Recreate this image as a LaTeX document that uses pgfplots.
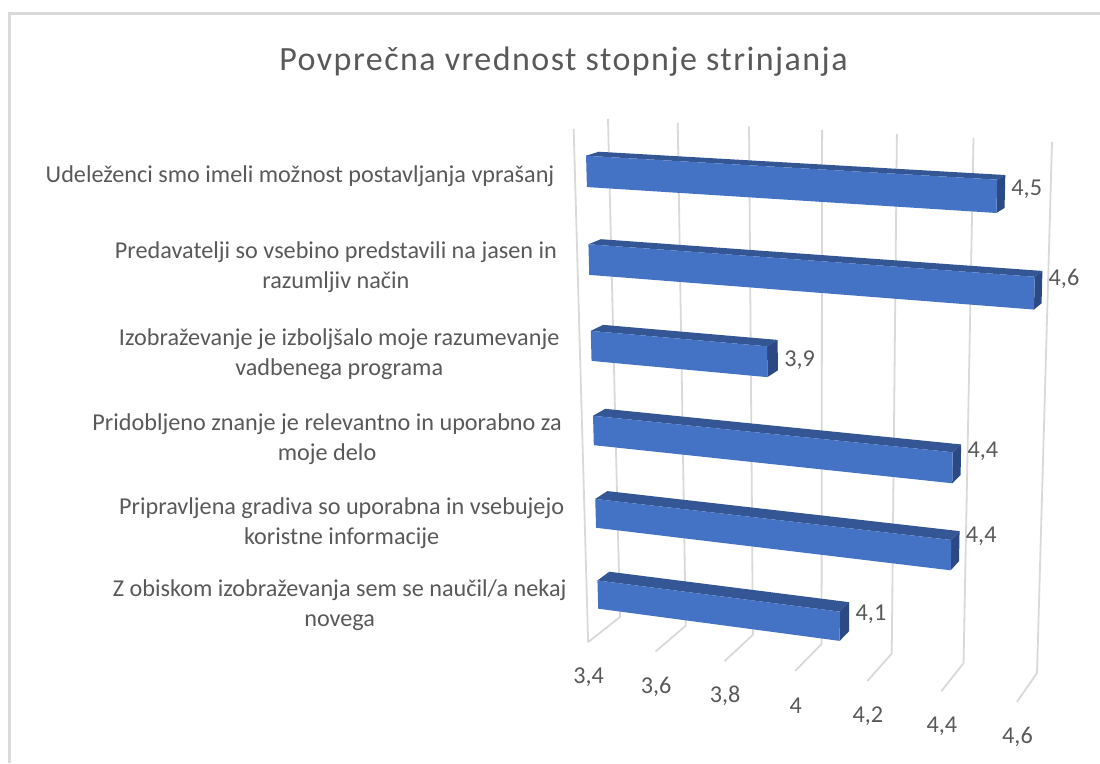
\documentclass[border=0pt]{standalone}
\usepackage{fontspec}
\setmainfont{Carlito}
\usepackage{pgfplots}
\usepackage{pgfplotstable}
\pgfplotsset{compat=1.18}

\definecolor{barfront}{HTML}{4472C4}
\definecolor{bartop}{HTML}{345694}
\definecolor{barside}{HTML}{2B4A85}
\definecolor{gridc}{HTML}{D9D9D9}
\definecolor{textc}{HTML}{595959}

% columns: v value, r row from the top (0..6), e depth (0 back wall, 1 front)
\pgfplotstableread[col sep=comma]{
r,v,e,label
0.48,3.4,1,{Udeleženci smo imeli možnost postavljanja vprašanj}
1.5,3.4,1,{Predavatelji so vsebino predstavili na jasen in\\razumljiv način}
2.5,3.4,1,{Izobraževanje je izboljšalo moje razumevanje\\vadbenega programa}
3.5,3.4,1,{Pridobljeno znanje je relevantno in uporabno za\\moje delo}
4.5,3.4,1,{Pripravljena gradiva so uporabna in vsebujejo\\koristne informacije}
5.5,3.4,1,{Z obiskom izobraževanja sem se naučil/a nekaj\\novega}
}\cats

\pgfplotstableread{
r v e
0.51 4.5 0.3
1.44 4.6 0.3
2.59 3.9 0.3
3.44 4.4 0.3
4.42 4.4 0.3
5.51 4.1 0.3
}\vals

\pgfplotstableread{
r v e
6 3.4 1
6 3.6 1
6 3.8 1
6 4.0 1
6 4.2 1
6 4.4 1
6 4.6 1
}\ticks

% the 3-D box of the chart, projected on the page
\pgfplotsset{
  table/proj/.style={
    x expr={px(\thisrow{v},\thisrow{r}/6,\thisrow{e})},
    y expr={763-py(\thisrow{v},\thisrow{r}/6,\thisrow{e})},
  },
}

\newcommand{\gridline}[1]{
  \addplot[gridc,line width=1.8pt] table[proj,row sep=\\] {v r e\\ #1 0 0\\ #1 6 0\\ #1 6 1\\};
}
% bar: top row, bottom row, value
\newcommand{\threedbar}[3]{
  \addplot[fill=bartop,draw=none] table[proj,row sep=\\] {v r e\\ 3.4 #1 0.67\\ 3.4 #1 0.3\\ #3 #1 0.3\\ #3 #1 0.67\\};
  \addplot[fill=barside,draw=none] table[proj,row sep=\\] {v r e\\ #3 #1 0.67\\ #3 #1 0.3\\ #3 #2 0.3\\ #3 #2 0.67\\};
  \addplot[fill=barfront,draw=none] table[proj,row sep=\\] {v r e\\ 3.4 #1 0.67\\ #3 #1 0.67\\ #3 #2 0.67\\ 3.4 #2 0.67\\};
}

\begin{document}
\begin{tikzpicture}
\useasboundingbox (0,0) rectangle (1100pt,763pt);
\begin{axis}[
  at={(0,0)},anchor=south west,
  width=1100pt,height=763pt,scale only axis,
  xmin=0,xmax=1100,ymin=0,ymax=763,
  hide axis,clip=false,
  title={\addfontfeature{LetterSpace=4.25}Povprečna vrednost stopnje strinjanja},
  title style={at={(0.5123,0.911)},anchor=center,font=\fontsize{34}{36}\selectfont,text=textc},
  declare function={
    pw(\a,\s,\e)=-0.06872*\a+0.06228*\s-0.03255*\e+1;
    px(\v,\s,\e)=(371.71*(\v-3.4)/1.2+50.61*\s-53*\e+608)/pw((\v-3.4)/1.2,\s,\e);
    py(\v,\s,\e)=(13.24*(\v-3.4)/1.2+536.43*\s+5.8*\e+119)/pw((\v-3.4)/1.2,\s,\e);
  },
  /pgf/number format/assume math mode=true,
  /pgf/number format/use comma,
]
% chart frame
\addplot[gridc,line width=2.6pt] coordinates {(9.5,0) (9.5,749.5) (1100,749.5)};

% left wall edge and grid
\addplot[gridc,line width=1.8pt] table[proj,row sep=\\] {v r e\\ 3.4 0 1\\ 3.4 6 1\\};
\gridline{3.4}\gridline{3.6}\gridline{3.8}\gridline{4.0}\gridline{4.2}\gridline{4.4}\gridline{4.6}

\threedbar{0.336}{0.687}{4.5}
\threedbar{1.336}{1.687}{4.6}
\threedbar{2.336}{2.687}{3.9}
\threedbar{3.336}{3.687}{4.4}
\threedbar{4.336}{4.687}{4.4}
\threedbar{5.336}{5.687}{4.1}

% category labels
\addplot[draw=none,point meta=explicit symbolic,nodes near coords,
  every node near coord/.append style={anchor=east,align=center,xshift=-17pt,yshift=-3.5pt,
    text=textc,font=\fontsize{24.2}{30}\selectfont}]
  table[proj,meta=label] {\cats};
% value labels
\addplot[draw=none,point meta=\thisrow{v},nodes near coords,
  every node near coord/.append style={anchor=west,xshift=3pt,yshift=2pt,
    text=textc,font=\fontsize{24.2}{28}\selectfont}]
  table[proj] {\vals};
% value axis tick labels
\addplot[draw=none,point meta=\thisrow{v},nodes near coords,
  every node near coord/.append style={anchor=center,xshift=0.5pt,yshift=-35pt,
    text=textc,font=\fontsize{24.2}{28}\selectfont}]
  table[proj] {\ticks};
\end{axis}
\end{tikzpicture}
\end{document}
